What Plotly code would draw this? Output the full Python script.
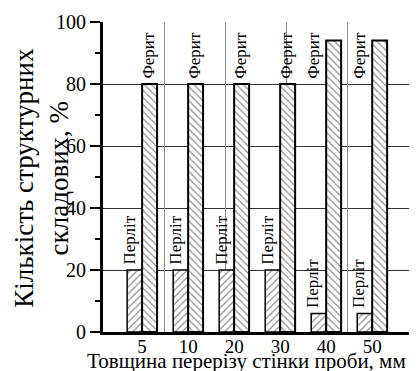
import plotly.graph_objects as go

thickness = ['5', '10', '20', '30', '40', '50']
perlite = [20, 20, 20, 20, 6, 6]
ferrite = [80, 80, 80, 80, 94, 94]
perlite_name = 'Перліт'
ferrite_name = 'Ферит'

FONT = 'Liberation Serif, Times New Roman, serif'
xi = list(range(len(thickness)))

fig = go.Figure()
fig.add_trace(go.Bar(
    x=xi, y=perlite, name=perlite_name,
    marker=dict(color='white', line=dict(color='black', width=1.5),
                pattern=dict(shape='/', fgcolor='#222', bgcolor='white', size=5, solidity=0.25)),
))
fig.add_trace(go.Bar(
    x=xi, y=ferrite, name=ferrite_name,
    marker=dict(color='white', line=dict(color='black', width=2),
                pattern=dict(shape='\\', fgcolor='#222', bgcolor='white', size=5, solidity=0.25)),
))
# invisible trace to activate the overlay grid axis
fig.add_trace(go.Scatter(x=[0, 5], y=[0, 0], xaxis='x2', mode='markers',
                         marker=dict(opacity=0), hoverinfo='skip', showlegend=False))

annotations = []
LABEL_LEVEL = 80
for i in xi:
    annotations.append(dict(x=i, y=perlite[i], xref='x', yref='y', text=perlite_name,
                            textangle=-90, showarrow=False, xanchor='center', yanchor='bottom',
                            xshift=-13, yshift=3, font=dict(family=FONT, size=17, color='black')))
    if ferrite[i] > LABEL_LEVEL + 5:
        yv, xs = LABEL_LEVEL, -13
    else:
        yv, xs = ferrite[i], 6
    annotations.append(dict(x=i, y=yv, xref='x', yref='y', text=ferrite_name,
                            textangle=-90, showarrow=False, xanchor='center', yanchor='bottom',
                            xshift=xs, yshift=3, font=dict(family=FONT, size=17, color='black')))

annotations.append(dict(x=-0.2, y=0.497, xref='paper', yref='paper',
                        text='Кількість структурних<br>складових, %', textangle=-90,
                        showarrow=False, xanchor='center', yanchor='middle',
                        font=dict(family=FONT, size=27, color='black')))
annotations.append(dict(x=0.47, y=-0.094, xref='paper', yref='paper',
                        text='Товщина перерізу стінки проби, мм',
                        showarrow=False, xanchor='center', yanchor='middle',
                        font=dict(family=FONT, size=21, color='black')))

fig.update_layout(
    width=420, height=371,
    margin=dict(l=103, r=11, t=20, b=39),
    paper_bgcolor='white', plot_bgcolor='white',
    barmode='group', bargap=0.35, bargroupgap=0,
    showlegend=False,
    font=dict(family=FONT, color='black'),
    xaxis=dict(range=[-0.85, 5.8], tickmode='array', tickvals=xi, ticktext=thickness,
               showline=True, linecolor='black', linewidth=3, ticks='', showgrid=False,
               zeroline=False, ticklabelstandoff=-5,
               tickfont=dict(size=19, family=FONT, color='black')),
    xaxis2=dict(overlaying='x', range=[0, 5], dtick=1, tick0=0, showgrid=True,
                gridcolor='#8a8a8a', gridwidth=1, showticklabels=False, ticks='',
                showline=False, zeroline=False),
    yaxis=dict(range=[0, 100], dtick=20, tick0=0, ticks='outside', ticklen=10, tickwidth=2,
               tickcolor='black', showline=True, linecolor='black', linewidth=3,
               showgrid=True, gridcolor='#333', gridwidth=1, zeroline=False,
               minor=dict(dtick=10, ticks='outside', ticklen=5, tickwidth=2, tickcolor='black', showgrid=False),
               tickfont=dict(size=20, family=FONT, color='black')),
    annotations=annotations,
)

fig.write_html('out.html')
